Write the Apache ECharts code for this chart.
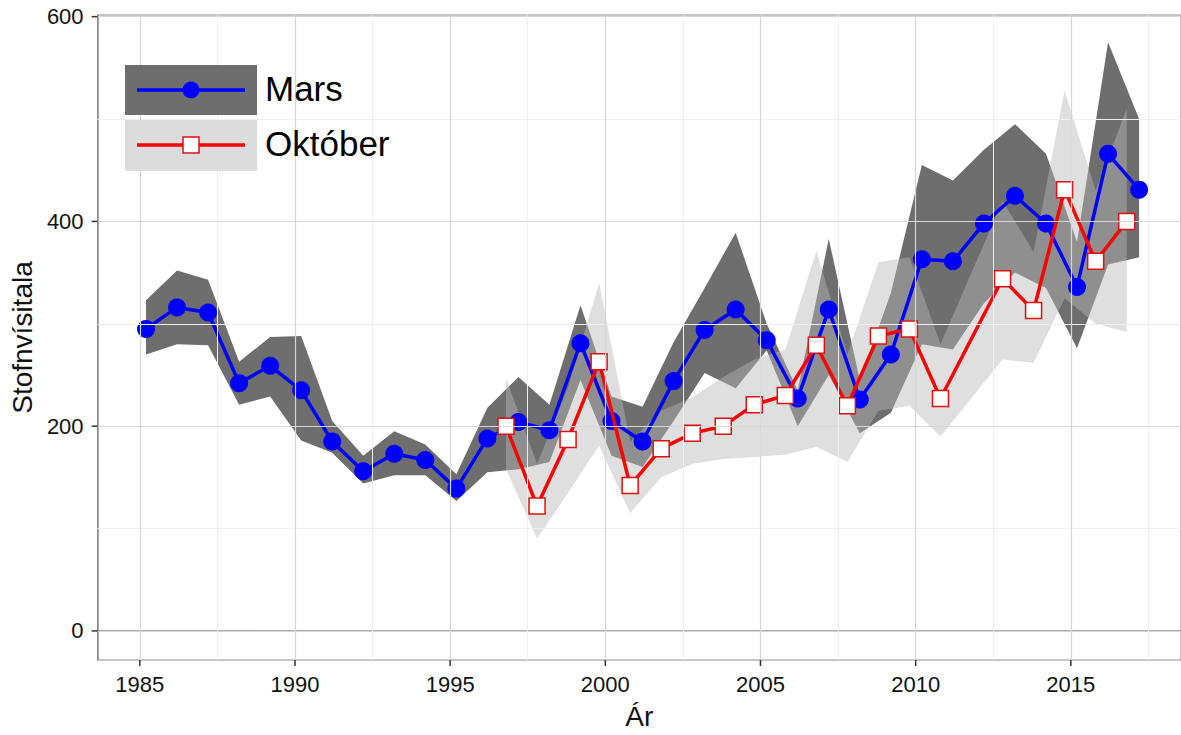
<!DOCTYPE html>
<html>
<head>
<meta charset="utf-8">
<script src="https://cdn.jsdelivr.net/npm/echarts@6/dist/echarts.min.js"></script>
<style>
html,body{margin:0;padding:0;background:#fff;}
#chart{width:1181px;height:735px;}
</style>
</head>
<body>
<div id="chart"></div>
<script>
// ---- data ----
const marsYears = [1985,1986,1987,1988,1989,1990,1991,1992,1993,1994,1995,1996,1997,1998,1999,2000,2001,2002,2003,2004,2005,2006,2007,2008,2009,2010,2011,2012,2013,2014,2015,2016,2017];
const marsValues = [295,316,311,242,259,235,185,156,173,167,139,188,204,196,281,205,185,244,294,314,284,227,314,226,270,363,361,398,425,398,336,466,431];
const marsLower  = [270,280,279,221,229,186,174,144,152,152,127,155,158,165,245,171,160,205,252,237,274,200,250,193,213,280,275,320,350,335,276,358,365];
const marsUpper  = [323,352,343,263,287,288,205,171,195,182,153,218,248,221,318,229,219,282,335,389,300,235,383,245,330,455,440,470,495,466,380,575,500];

const octYears  = [1996,1997,1998,1999,2000,2001,2002,2003,2004,2005,2006,2007,2008,2009,2010,2012,2013,2014,2015,2016];
const octValues = [200,122,187,263,142,178,193,200,221,230,279,220,288,295,227,344,313,431,361,400];
const octLower  = [158,90,135,181,115,150,163,168,170,172,180,165,215,220,190,265,262,325,300,292];
const octUpper  = [247,163,238,340,185,215,228,248,265,275,371,270,360,365,280,420,370,528,430,510];

const marsOffset = 0.2;   // survey month offset within year
const octOffset = 0.8;

const yTicks = [0,200,400,600];
const xTicks = [1985,1990,1995,2000,2005,2010,2015];
const yGrid = [0,100,200,300,400,500,600];
const xGrid = [1985,1987.5,1990,1992.5,1995,1997.5,2000,2002.5,2005,2007.5,2010,2012.5,2015,2017.5];

const names = {mars:'Mars', oct:'Október', x:'Ár', y:'Stofnvísitala'};

// ---- build ----
const X_MIN = 1983.64, X_MAX = 2018.55, Y_MIN = -28.4, Y_MAX = 601.6;
const marsX = marsYears.map(y => y + marsOffset);
const octX = octYears.map(y => y + octOffset);
const marsLine = marsX.map((x,i) => [x, marsValues[i]]);
const octLine = octX.map((x,i) => [x, octValues[i]]);
const marsBand = marsX.map((x,i) => [x, marsLower[i], marsUpper[i]]);
const octBand = octX.map((x,i) => [x, octLower[i], octUpper[i]]);

function bandRenderer(rows, fill) {
  return function (params, api) {
    if (params.dataIndex !== 0) return null;
    const pts = [];
    for (let i = 0; i < rows.length; i++) pts.push(api.coord([rows[i][0], rows[i][2]]));
    for (let i = rows.length - 1; i >= 0; i--) pts.push(api.coord([rows[i][0], rows[i][1]]));
    return {type:'polygon', shape:{points:pts}, style:{fill:fill}, silent:true};
  };
}

const FONT = "'Liberation Sans', Arial, Helvetica, sans-serif";
const MAJOR = '#d6d6d6', MINOR = '#efefef';
const TICK = '#333333';

const chart = echarts.init(document.getElementById('chart'), null, {renderer:'svg'});
chart.setOption({
  animation:false,
  backgroundColor:'#ffffff',
  grid:{left:96, right:0, top:15, bottom:69, show:true, borderColor:'#8c8c8c', borderWidth:1, containLabel:false},
  xAxis:{
    type:'value', min:X_MIN, max:X_MAX,
    name:names.x, nameLocation:'middle', nameGap:42,
    nameTextStyle:{fontFamily:FONT, fontSize:28, color:'#111'},
    axisLine:{show:true, lineStyle:{color:'#8c8c8c', width:1.5}},
    axisTick:{show:false},
    axisLabel:{show:true, customValues:xTicks, margin:13, fontFamily:FONT, fontSize:22, color:'#111', formatter: v => String(v)},
    splitLine:{show:false}
  },
  yAxis:{
    type:'value', min:Y_MIN, max:Y_MAX,
    name:names.y, nameLocation:'middle', nameGap:60, nameRotate:90,
    nameTextStyle:{fontFamily:FONT, fontSize:28, color:'#111'},
    axisLine:{show:true, lineStyle:{color:'#8c8c8c', width:1.5}},
    axisTick:{show:false},
    axisLabel:{show:true, customValues:yTicks, margin:14, fontFamily:FONT, fontSize:22, color:'#111', formatter: v => String(v)},
    splitLine:{show:false}
  },
  series:[
    {
      type:'line', data:[], z:0, silent:true,
      markLine:{
        silent:true, symbol:'none', label:{show:false}, animation:false,
        data: yGrid.map(v => ({yAxis:v, lineStyle:{color: v % 200 === 0 ? MAJOR : MINOR, width: v % 200 === 0 ? 1.2 : 1, type:'solid'}}))
          .concat(xGrid.map(v => ({xAxis:v, lineStyle:{color: v % 5 === 0 ? MAJOR : MINOR, width: v % 5 === 0 ? 1.2 : 1, type:'solid'}})))
      }
    },
    {type:'custom', name:'marsBand', data:marsBand, encode:{x:0, y:[1,2]}, z:1, renderItem:bandRenderer(marsBand, '#6e6e6e')},
    {type:'custom', name:'octBand', data:octBand, encode:{x:0, y:[1,2]}, z:1, renderItem:bandRenderer(octBand, 'rgba(185,185,185,0.45)')},
    {
      type:'line', name:names.mars, data:marsLine, z:3,
      lineStyle:{color:'#0000ff', width:3.5},
      symbol:'circle', symbolSize:18,
      itemStyle:{color:'#0000ff'}
    },
    {
      type:'line', name:names.oct, data:octLine, z:4,
      lineStyle:{color:'#ff0000', width:3.5},
      symbol:'rect', symbolSize:16,
      itemStyle:{color:'#ffffff', borderColor:'#e01010', borderWidth:1.5}
    },
    // axis tick marks (outside the panel)
    {
      type:'custom', silent:true, clip:false, z:5,
      data: xTicks.map(v => [v, Y_MIN]),
      encode:{x:0, y:1},
      renderItem: function (params, api) {
        const p = api.coord([api.value(0), Y_MIN]);
        return {type:'line', shape:{x1:p[0], y1:p[1], x2:p[0], y2:p[1] + 6}, style:{stroke:TICK, lineWidth:1.5}};
      }
    },
    {
      type:'custom', silent:true, clip:false, z:5,
      data: yTicks.map(v => [X_MIN, v]),
      encode:{x:0, y:1},
      renderItem: function (params, api) {
        const p = api.coord([X_MIN, api.value(1)]);
        return {type:'line', shape:{x1:p[0] - 6, y1:p[1], x2:p[0], y2:p[1]}, style:{stroke:TICK, lineWidth:1.5}};
      }
    }
  ],
  graphic:[
    {type:'rect', left:125, top:65, shape:{width:132, height:50}, style:{fill:'#6e6e6e'}, z:10},
    {type:'rect', left:125, top:120, shape:{width:132, height:51}, style:{fill:'#dcdcdc'}, z:10},
    {type:'line', shape:{x1:137, y1:90, x2:245, y2:90}, style:{stroke:'#0000ff', lineWidth:3.5}, z:11},
    {type:'circle', shape:{cx:191, cy:90, r:8.5}, style:{fill:'#0000ff'}, z:12},
    {type:'line', shape:{x1:137, y1:145, x2:245, y2:145}, style:{stroke:'#ff0000', lineWidth:3.5}, z:11},
    {type:'rect', shape:{x:183, y:137, width:16, height:16}, style:{fill:'#ffffff', stroke:'#e01010', lineWidth:1.5}, z:12},
    {type:'text', left:265, top:71, style:{text:names.mars, font:"35px " + FONT, fill:'#000'}, z:12},
    {type:'text', left:265, top:126, style:{text:names.oct, font:"35px " + FONT, fill:'#000'}, z:12}
  ]
});
</script>
</body>
</html>
